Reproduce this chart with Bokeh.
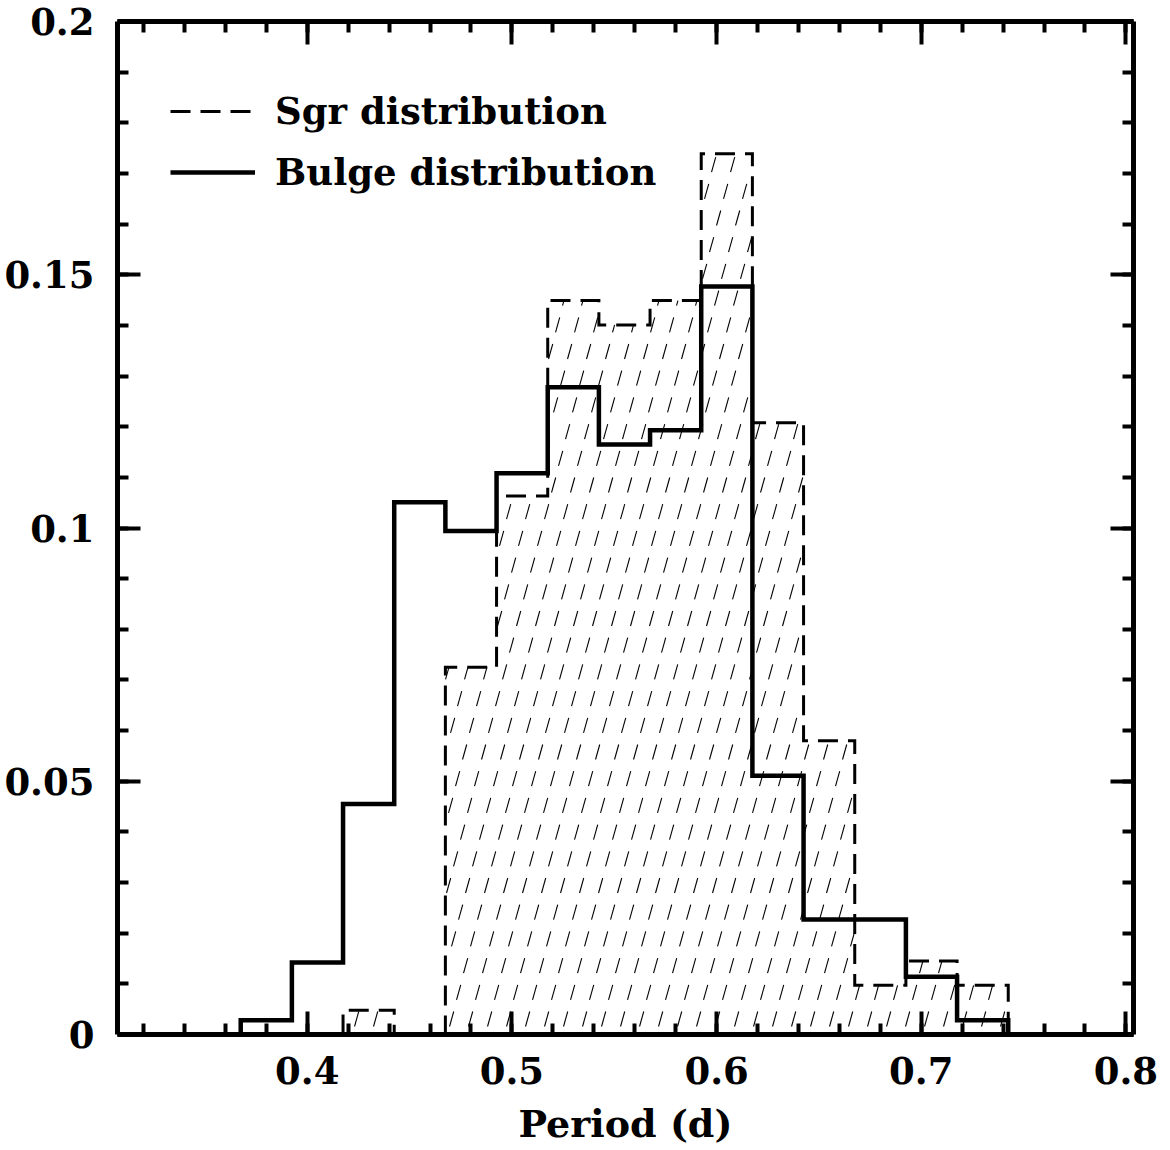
import numpy as np
from bokeh.plotting import figure
from bokeh.models import Range1d, LinearAxis, FixedTicker, Legend, LegendItem
from bokeh.embed import file_html
from bokeh.resources import INLINE

# ---- data ----
bin_edges = [0.3675, 0.3925, 0.4175, 0.4425, 0.4675, 0.4925, 0.5175, 0.5425,
             0.5675, 0.5925, 0.6175, 0.6425, 0.6675, 0.6925, 0.7175, 0.7425]
bulge_frac = [0.0028, 0.0142, 0.0455, 0.1051, 0.0994, 0.1108, 0.1278, 0.1165,
              0.1193, 0.1477, 0.0511, 0.0227, 0.0227, 0.0114, 0.0028]
sgr_frac = [0.0, 0.0, 0.0048, 0.0, 0.0725, 0.1063, 0.1449, 0.1401,
            0.1449, 0.1739, 0.1208, 0.0580, 0.0097, 0.0145, 0.0097]
series_names = ["Sgr distribution", "Bulge distribution"]
x_ticks = [0.4, 0.5, 0.6, 0.7, 0.8]
x_tick_labels = ["0.4", "0.5", "0.6", "0.7", "0.8"]
y_ticks = [0.0, 0.05, 0.1, 0.15, 0.2]
y_tick_labels = ["0", "0.05", "0.1", "0.15", "0.2"]
x_label = "Period (d)"

X_START, X_END = 0.3073, 0.8037
Y_START, Y_END = 0.0, 0.2

FONT = "DejaVu Serif"

ML, MR, MT, MB = 117, 29, 21, 112
FW, FH = 1016, 1013

p = figure(frame_width=FW, frame_height=FH,
           x_range=Range1d(X_START, X_END), y_range=Range1d(Y_START, Y_END),
           x_axis_type=None, y_axis_type=None, output_backend="svg", toolbar_location=None,
           min_border_left=ML, min_border_right=MR, min_border_top=MT, min_border_bottom=MB)
p.outline_line_color = None
p.background_fill_color = "white"


def step_xy(edges, vals):
    edges = np.asarray(edges, float)
    vals = np.asarray(vals, float)
    nz = np.nonzero(vals)[0]
    a, b = nz[0], nz[-1] + 1
    e = edges[a:b + 1]
    v = vals[a:b]
    xs = np.repeat(e, 2)
    ys = np.concatenate([[0.0], np.repeat(v, 2), [0.0]])
    return xs, ys


# ---- hatch of the Sgr histogram (short slashes on a regular grid) ----
pxx = FW / (X_END - X_START)   # pixels per x unit
pxy = FH / (Y_END - Y_START)   # pixels per y unit
col_step, row_step, row_shift = 19.0, 26.7, 7.0
sl_dx, sl_dy = 4.2, 15.0
x_phase, y_phase = 9.3, 8.0

edges_arr = np.asarray(bin_edges)
sgr_arr = np.asarray(sgr_frac)


def sgr_height(x):
    i = np.searchsorted(edges_arr, x, side="right") - 1
    if 0 <= i < len(sgr_arr):
        return sgr_arr[i]
    return 0.0


hx0, hy0, hx1, hy1 = [], [], [], []
n_rows = int(FH / row_step) + 2
for j in range(n_rows):
    yb = (y_phase + j * row_step) / pxy
    for i in range(-60, 80):
        xb = 0.4 + (x_phase + i * col_step + j * row_shift) / pxx
        if xb < edges_arr[0] or xb > edges_arr[-1]:
            continue
        xt = xb + sl_dx / pxx
        yt = yb + sl_dy / pxy
        hb = sgr_height(xb)
        ht = sgr_height(xt)
        lim = min(hb, ht)
        if lim <= yb + 2.0 / pxy:
            continue
        ytc = min(yt, lim)
        xtc = xb + (xt - xb) * (ytc - yb) / (yt - yb)
        hx0.append(xb); hy0.append(yb); hx1.append(xtc); hy1.append(ytc)

p.segment(x0=hx0, y0=hy0, x1=hx1, y1=hy1, line_color="black", line_width=1.1)

sx, sy = step_xy(bin_edges, sgr_frac)
r_sgr = p.line(sx, sy, line_color="black", line_width=3, line_dash="20 10", line_join="miter")
bx, by = step_xy(bin_edges, bulge_frac)
r_bulge = p.line(bx, by, line_color="black", line_width=4.5, line_join="miter")

# ---- axes on all four sides, ticks pointing inwards ----
x_minor = list(np.round(np.arange(0.32, 0.8001, 0.02), 4))
y_minor = list(np.round(np.arange(0.0, 0.2001, 0.01), 4))


def style(ax, labels):
    ax.axis_line_width = 5
    ax.axis_line_color = "black"
    ax.major_tick_in = 23
    ax.major_tick_out = 0
    ax.minor_tick_in = 11
    ax.minor_tick_out = 0
    ax.major_tick_line_width = 4
    ax.minor_tick_line_width = 4
    if labels:
        ax.major_label_text_font = FONT
        ax.major_label_text_font_style = "bold"
        ax.major_label_text_font_size = "37px"
        ax.major_label_text_color = "black"
    else:
        ax.major_label_text_font_size = "1px"
        ax.major_label_text_color = None
        ax.major_label_standoff = 0


xb_axis = LinearAxis(ticker=FixedTicker(ticks=x_ticks, minor_ticks=x_minor),
                     major_label_overrides=dict(zip(x_ticks, x_tick_labels)))
style(xb_axis, True)
xb_axis.major_label_standoff = 22
xb_axis.axis_label = x_label
xb_axis.axis_label_text_font = FONT
xb_axis.axis_label_text_font_style = "bold"
xb_axis.axis_label_text_font_size = "38px"
xb_axis.axis_label_text_color = "black"
xb_axis.axis_label_standoff = 14
p.add_layout(xb_axis, "below")

xt_axis = LinearAxis(ticker=FixedTicker(ticks=x_ticks, minor_ticks=x_minor))
style(xt_axis, False)
p.add_layout(xt_axis, "above")

yl_axis = LinearAxis(ticker=FixedTicker(ticks=y_ticks, minor_ticks=y_minor),
                     major_label_overrides=dict(zip(y_ticks, y_tick_labels)))
style(yl_axis, True)
yl_axis.major_label_standoff = 23
p.add_layout(yl_axis, "left")

yr_axis = LinearAxis(ticker=FixedTicker(ticks=y_ticks, minor_ticks=y_minor))
style(yr_axis, False)
p.add_layout(yr_axis, "right")

legend = Legend(items=[LegendItem(label=series_names[0], renderers=[r_sgr]),
                       LegendItem(label=series_names[1], renderers=[r_bulge])],
                location=(53, 840), glyph_width=85, glyph_height=40, label_height=40,
                spacing=17, padding=0, margin=0, label_standoff=20,
                border_line_color=None, background_fill_alpha=0,
                label_text_font=FONT, label_text_font_style="bold",
                label_text_font_size="37px", label_text_color="black")
p.add_layout(legend)

open("out.html", "w").write(file_html(p, INLINE))
